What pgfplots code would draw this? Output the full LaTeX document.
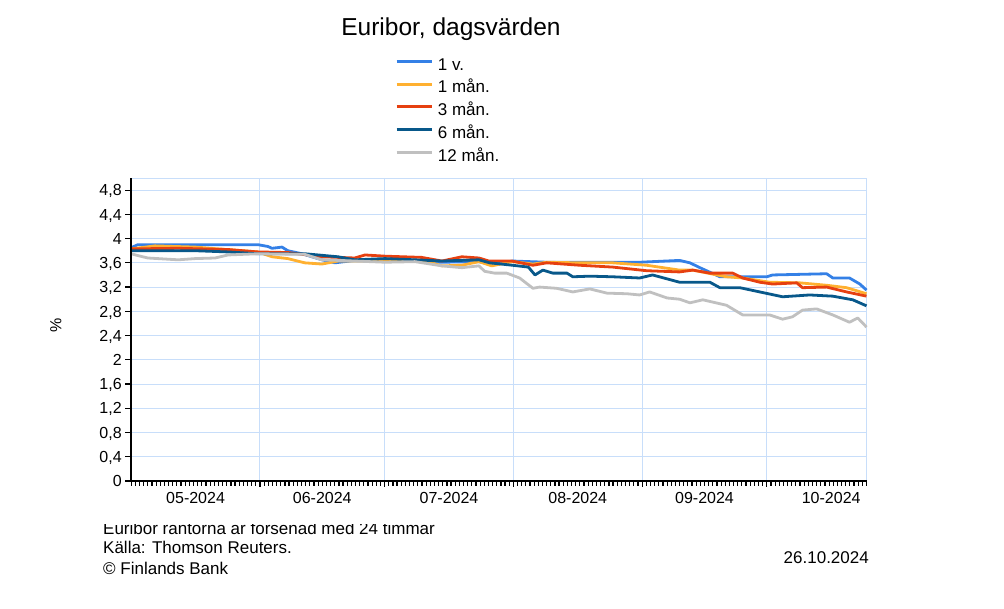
\documentclass[border=0pt]{standalone}
\usepackage{fontspec}
\setmainfont{Liberation Sans}
\usepackage{pgfplots}
\pgfplotsset{compat=1.18}
\definecolor{c1v}{RGB}{52,128,230}
\definecolor{c1m}{RGB}{255,176,48}
\definecolor{c3m}{RGB}{230,64,16}
\definecolor{c6m}{RGB}{8,88,138}
\definecolor{c12m}{RGB}{192,192,192}
\definecolor{gridblue}{RGB}{200,222,250}
\begin{document}
\begin{tikzpicture}[x=1pt,y=1pt]
\useasboundingbox (0,0) rectangle (1004,608);
\begin{axis}[
 at={(131.2pt,127pt)}, anchor=south west,
 scale only axis, width=735.3pt, height=303pt,
 xmin=0, xmax=177, ymin=0, ymax=5,
 clip=false,
 axis line style={draw=gridblue, line width=1pt},
 xmajorgrids, ymajorgrids,
 major grid style={draw=gridblue, line width=1pt},
 xtick={31,61,92,123,153}, xticklabels={},
 minor xtick={0,1,...,177},
 extra x ticks={15.5,46,76.5,107.5,138,168.5},
 extra x tick labels={05-2024,06-2024,07-2024,08-2024,09-2024,10-2024},
 extra x tick style={grid=none, major tick length=0pt, xticklabel style={anchor=base, yshift=-23pt}},
 ytick={0,0.4,0.8,1.2,1.6,2,2.4,2.8,3.2,3.6,4,4.4,4.8},
 yticklabels={0,{0,4},{0,8},{1,2},{1,6},2,{2,4},{2,8},{3,2},{3,6},4,{4,4},{4,8}},
 yticklabel style={anchor=base east, yshift=-5.7pt},
 tick align=outside, xtick pos=bottom, ytick pos=left,
 major tick length=6pt, minor tick length=5pt,
 tick style={black, line width=1.2pt},
 tick label style={font=\fontsize{16}{19}\selectfont},
 ylabel={\%},
 ylabel style={at={(axis description cs:-0.1024,0.515)}, anchor=center, font=\fontsize{16}{19}\selectfont},
 title={Euribor, dagsvärden},
 title style={at={(axis description cs:0.4349,1.449)}, anchor=base, font=\fontsize{24.5}{29}\selectfont},
 legend image code/.code={\draw[#1, line width=3pt] (0pt,5pt) -- (35pt,5pt);},
 legend style={at={(axis description cs:0.3547,1.4125)}, anchor=north west, draw=none, fill=none,
   font=\fontsize{17}{20}\selectfont, row sep=0pt, column sep=1.7pt,
   nodes={inner sep=3pt, text height=12pt, text depth=4.7pt}},
 legend cell align=left,
]
\addplot[c1v, line width=2.8pt, line join=round] coordinates {
(0,3.85)(1.6,3.90)(15.4,3.90)(30.5,3.90)(32.9,3.87)(33.9,3.84)(36.3,3.86)(37.7,3.80)
(41.1,3.75)(45.9,3.65)(49.0,3.60)(53.8,3.64)(61.1,3.64)(68.3,3.63)(74.8,3.61)(83.7,3.62)
(86.8,3.57)(91.8,3.63)(100.0,3.61)(115.9,3.61)(122.4,3.61)(132.0,3.64)(134.5,3.60)(136.9,3.52)
(141.7,3.37)(147.2,3.37)(153.0,3.37)(154.4,3.40)(160.9,3.41)(167.4,3.42)(168.9,3.35)(172.9,3.35)
(175.4,3.25)(177,3.15)};
\addlegendentry{1 v.}
\addplot[c1m, line width=2.8pt, line join=round] coordinates {
(0,3.83)(5.7,3.88)(15.4,3.86)(30.5,3.78)(33.9,3.70)(37.7,3.67)(41.8,3.60)(45.9,3.58)
(49.8,3.63)(53.8,3.63)(61.1,3.64)(68.3,3.63)(72.4,3.60)(74.8,3.55)(79.6,3.56)(83.7,3.62)
(86.8,3.55)(91.8,3.62)(96.7,3.58)(100.0,3.61)(108.0,3.60)(115.9,3.60)(124.1,3.56)(132.0,3.48)
(135.2,3.48)(141.0,3.40)(143.3,3.37)(147.2,3.35)(153.7,3.28)(160.9,3.27)(167.4,3.23)(172.2,3.19)
(177,3.09)};
\addlegendentry{1 mån.}
\addplot[c3m, line width=2.8pt, line join=round] coordinates {
(0,3.83)(11.3,3.84)(23.3,3.82)(30.5,3.78)(37.7,3.77)(45.9,3.70)(53.8,3.68)(56.3,3.73)
(61.1,3.71)(69.9,3.69)(74.8,3.63)(79.6,3.70)(83.7,3.68)(86.1,3.63)(91.6,3.63)(96.7,3.56)
(100.0,3.60)(108.0,3.56)(115.9,3.53)(124.1,3.47)(132.0,3.45)(135.2,3.48)(139.3,3.43)(144.8,3.43)
(147.2,3.35)(151.3,3.28)(154.4,3.25)(160.2,3.27)(161.6,3.19)(167.4,3.20)(172.2,3.12)(177,3.05)};
\addlegendentry{3 mån.}
\addplot[c6m, line width=2.8pt, line join=round] coordinates {
(0,3.80)(15.4,3.80)(23.3,3.78)(30.5,3.75)(41.8,3.75)(49.8,3.70)(53.8,3.65)(61.1,3.67)
(68.3,3.65)(74.8,3.63)(83.7,3.65)(86.3,3.60)(91.8,3.56)(95.6,3.53)(97.2,3.40)(99.1,3.48)
(101.5,3.43)(104.9,3.43)(106.3,3.37)(110.4,3.38)(115.9,3.37)(122.4,3.35)(125.5,3.40)(132.0,3.28)
(139.3,3.28)(141.7,3.19)(146.5,3.19)(151.3,3.12)(156.8,3.04)(163.3,3.07)(168.9,3.05)(173.7,2.99)
(177,2.89)};
\addlegendentry{6 mån.}
\addplot[c12m, line width=2.8pt, line join=round] coordinates {
(0,3.75)(1.6,3.72)(4.0,3.68)(11.3,3.65)(15.4,3.67)(20.2,3.68)(23.3,3.73)(30.5,3.75)
(41.8,3.74)(45.9,3.65)(53.8,3.63)(61.1,3.61)(68.3,3.62)(74.8,3.55)(79.6,3.52)(83.7,3.55)
(85.1,3.46)(87.5,3.43)(90.4,3.43)(93.5,3.35)(96.7,3.18)(98.3,3.20)(102.4,3.18)(106.3,3.12)
(110.4,3.17)(114.5,3.10)(119.3,3.09)(122.4,3.07)(124.8,3.12)(129.0,3.02)(132.0,3.00)(134.5,2.94)
(137.6,2.99)(143.3,2.90)(147.2,2.74)(153.7,2.74)(156.8,2.67)(159.2,2.71)(161.6,2.82)(165.0,2.84)
(168.9,2.74)(172.9,2.62)(174.9,2.69)(177,2.54)};
\addlegendentry{12 mån.}
\draw[black, line width=1.6pt] (rel axis cs:0,1) -- (rel axis cs:0,0) -- (rel axis cs:1,0);
\end{axis}
\begin{scope}
\clip (90,0) rectangle (600,83.6);
\node[anchor=base west, inner sep=0pt, font=\fontsize{17}{20}\selectfont] at (103,74) {Euribor räntorna är försenad med 24 timmar};
\end{scope}
\node[anchor=base west, inner sep=0pt, font=\fontsize{17}{20}\selectfont] at (103,54.5) {Källa: Thomson Reuters.};
\node[anchor=base west, inner sep=0pt, font=\fontsize{17}{20}\selectfont] at (103,34) {© Finlands Bank};
\node[anchor=base east, inner sep=0pt, font=\fontsize{17}{20}\selectfont] at (869,45) {26.10.2024};
\end{tikzpicture}
\end{document}
